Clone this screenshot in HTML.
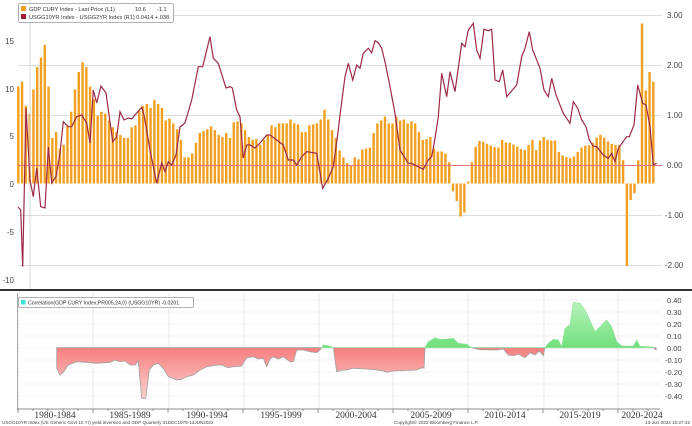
<!DOCTYPE html>
<html><head><meta charset="utf-8"><style>
html,body{margin:0;padding:0;background:#fff;}
svg{display:block;font-family:"Liberation Sans",sans-serif;}
</style></head><body>
<svg id="c" width="692" height="426" viewBox="0 0 692 426" xmlns="http://www.w3.org/2000/svg">
<defs>
<linearGradient id="rg" x1="0" y1="0" x2="0" y2="1"><stop offset="0" stop-color="#f77f7f"/><stop offset="1" stop-color="#fbd0d0"/></linearGradient>
<linearGradient id="gg" x1="0" y1="1" x2="0" y2="0"><stop offset="0" stop-color="#6fe07a"/><stop offset="1" stop-color="#b8f3bd"/></linearGradient>
</defs>
<g id="grid"></g>
<g id="bars"></g>
<line x1="18" y1="165.5" x2="662" y2="165.5" stroke="#e0707a" stroke-width="1"/>
<line x1="30" y1="0" x2="30" y2="290" stroke="#d8d8d8" stroke-width="1"/>
<polyline id="ln" fill="none" stroke="#9c2a45" stroke-width="1.2"/>
<g font-size="8" fill="#444">
<text x="14" y="44" text-anchor="end">15</text>
<text x="14" y="92" text-anchor="end">10</text>
<text x="14" y="139" text-anchor="end">5</text>
<text x="14" y="187" text-anchor="end">0</text>
<text x="14" y="235" text-anchor="end">-5</text>
<text x="14" y="283" text-anchor="end">-10</text>
<text x="667" y="18">3.00</text>
<text x="667" y="68">2.00</text>
<text x="667" y="118">1.00</text>
<text x="667" y="168">0.00</text>
<text x="665" y="218">-1.00</text>
<text x="665" y="268">-2.00</text>
</g>
<rect x="18.5" y="3.5" width="155" height="19" rx="2" fill="#fff" stroke="#999" stroke-width="0.8"/>
<rect x="21" y="6" width="5" height="5" fill="#f3a021"/>
<rect x="21" y="14" width="5" height="5" fill="#a01c38"/>
<g font-size="5.6" fill="#333">
<text x="29" y="11">GDP CURY Index - Last Price (L1)</text>
<text x="135" y="11">10.6</text><text x="157" y="11">-1.1</text>
<text x="29" y="19">USGG10YR Index - USGG2YR Index (R1) 0.0414 +.038</text>
</g>
<line x1="0" y1="290" x2="692" y2="290" stroke="#333" stroke-width="2"/>
<g id="bgrid"></g>
<path id="red" fill="url(#rg)" stroke="#a0a0a0" stroke-width="0.8"/>
<path id="grn" fill="url(#gg)" stroke="#8ee398" stroke-width="0.6"/>
<rect x="18.5" y="297.5" width="175" height="10" rx="1.5" fill="#fff" stroke="#999" stroke-width="0.8"/>
<rect x="21" y="300" width="4.5" height="4.5" fill="#3ee0d8"/>
<text x="28" y="304.5" font-size="5.2" fill="#333">Correlation(GDP CURY Index,PR005,24,0) (USGG10YR) -0.0201</text>
<g font-size="7.5" fill="#444">
<text x="667" y="303">0.40</text><text x="667" y="315">0.30</text><text x="667" y="327">0.20</text>
<text x="667" y="339">0.10</text><text x="667" y="351">0.00</text><text x="665" y="363">-0.10</text>
<text x="665" y="375">-0.20</text><text x="665" y="387">-0.30</text><text x="665" y="399">-0.40</text>
</g>
<line x1="17" y1="409" x2="660" y2="409" stroke="#666" stroke-width="0.8"/>
<g id="ticks"></g>
<g font-size="9.5" fill="#333" font-family="Liberation Serif, serif" text-anchor="middle">
<text x="55" y="418">1980-1984</text><text x="130" y="418">1985-1989</text><text x="207" y="418">1990-1994</text>
<text x="281" y="418">1995-1999</text><text x="356" y="418">2000-2004</text><text x="431" y="418">2005-2009</text>
<text x="505" y="418">2010-2014</text><text x="580" y="418">2015-2019</text><text x="642" y="418">2020-2024</text>
</g>
<g font-size="4.6" fill="#444">
<text x="2" y="424">USGG10YR Index (US Generic Govt 10 Yr) yield inversion and GDP  Quarterly 31DEC1979-13JUN2022</text>
<text x="394" y="424">Copyright© 2022 Bloomberg Finance L.P.</text>
<text x="690" y="424" text-anchor="end">13-Jun-2022 10:27:42</text>
</g>
</svg>
<script>
var NS="http://www.w3.org/2000/svg";
function el(p,t,a){var e=document.createElementNS(NS,t);for(var k in a)e.setAttribute(k,a[k]);p.appendChild(e);return e;}
var g=document.getElementById("grid");
[15,65,115,215,265].forEach(function(y){el(g,"line",{x1:18,y1:y+.5,x2:662,y2:y+.5,stroke:"#dcdcdc","stroke-width":1});});
var a=[10.0,10.5,8.0,7.2,9.7,12.0,13.0,14.3,10.0,4.7,5.3,3.6,4.0,6.0,7.4,9.7,11.5,12.5,12.0,10.0,8.7,7.0,7.4,7.2,6.5,5.8,5.3,5.0,4.7,4.7,5.8,6.0,7.5,8.0,8.2,7.8,8.6,8.2,7.8,6.5,6.7,6.2,5.6,4.5,2.7,2.7,3.1,4.2,5.2,5.4,5.6,5.9,
5.5,5.0,4.8,5.2,4.7,6.3,6.4,6.2,5.5,4.8,4.5,4.6,4.0,4.5,5.0,6.0,5.8,6.2,6.2,6.2,6.6,6.2,6.1,5.3,5.3,6.0,6.1,6.2,6.6,7.6,6.6,5.5,
4.7,3.4,2.7,2.1,1.8,2.7,2.5,3.5,3.6,3.7,5.2,6.2,6.5,6.9,6.2,6.2,6.9,6.5,6.6,6.2,6.4,6.2,5.3,4.5,4.6,4.8,3.6,3.3,3.3,3.1,2.2,-0.8,-1.8,-3.4,-3.0,0.2];
var m=[2.2,4.0,4.5,4.2,4.0,3.8,3.6,4.5,4.2,4.2,3.9,3.7,3.3,3.9,4.5,3.3,4.8,4.8,4.2,4.8,3.3,2.9,2.7,2.6,2.9,3.6,3.9,3.9,4.2,4.8,5.1,4.5,4.2,3.9,4.2,2.4];
for(var i=0;i<41;i++){var t=i*(m.length-1)/40,j=Math.floor(t),f=t-j;a.push(j+1<m.length?m[j]*(1-f)+m[j+1]*f:m[j]);}
a=a.concat([-8.5,-1.7,-1.0,2.4,16.5,9.6,11.5,10.5]);
var b=document.getElementById("bars");
a.forEach(function(v,i){var x=18.3+i*3.78-1.2,y0=183.5,h=v*9.7;
el(b,"rect",{x:x.toFixed(2),y:(h>=0?y0-h:y0).toFixed(2),width:2.4,height:Math.abs(h).toFixed(2),fill:"#f3a021"});});
var L=[[18,207],[20.7,210],[22.7,266.7],[26,108],[30,180],[33.3,196.7],[36.7,168],[40.7,206.7],[45,208],[48.3,147],[51.7,183],[56,176.7],[60,153],[63.3,121.7],[68.3,126.7],[71.7,126.7],[76.7,116.7],[81.7,115],[86.7,123],[90,143],[93.3,90],[96.7,103],[101,86],[106,93],[112.7,141.7],[116.7,136.7],[120,111.7],[124,120],[128.3,118],[131.7,119],[135,115],[141.7,107.3],[144,115],[150,150],[156.7,183.3],[161.7,163],[165,171.7],[168.3,161.7],[171.7,165],[176,155],[180,127],[185,123],[191.7,100],[198.3,66.7],[202.7,66.7],[210,36.7],[213.3,58.3],[218.3,63.3],[226,88],[230,86.7],[232.3,88],[236.7,110],[240,116.7],[243.3,158],[246.7,145],[250,145],[255,148],[260,143],[266.7,135],[270,135],[276.7,140],[283.3,145],[288.3,160],[293.3,160],[296.7,165],[301.7,156.7],[306.7,151.7],[316.7,153.3],[322.7,188.3],[328.3,178.3],[333.3,166.7],[338.3,130],[340,115],[345,76.7],[348.3,63.3],[352.7,80],[356.7,65],[360,68.3],[363.3,53.3],[368.3,48.3],[371.7,52.7],[375,40.7],[378.3,42.7],[381.7,48.3],[385,61.7],[390,86.7],[395,113.3],[400,150],[408.3,163.3],[411.7,163.3],[416.7,166],[423.3,169.3],[428.3,160],[431.7,156.7],[435,138.3],[438.3,116.7],[441.7,73.3],[446.7,96.7],[450,71.7],[455,91.7],[461.7,43.3],[465,46.7],[468.3,30],[473.3,23.3],[476.7,50],[480,58.3],[484,29.3],[488.3,30.7],[491.7,29.3],[495,80],[499.3,81.7],[502.7,70],[506.7,96.7],[516.7,85],[521.7,56.7],[525,48.3],[529.3,31.7],[532.7,50],[540,68.3],[544,90],[548.3,96.7],[551.7,78.3],[556,95],[563.3,113.3],[570,123.3],[573.3,101.7],[577.7,108.3],[581.7,120],[586,126.7],[589.3,140],[593,146],[596.7,146.7],[603.3,155],[608.3,158.3],[611.7,153.3],[615,161.7],[618.3,148.3],[626.7,136.7],[629.3,136.7],[634,125],[637.7,85],[642.7,103.3],[646,105],[650,126.7],[653.3,165],[656.7,163.3]];
document.getElementById("ln").setAttribute("points",L.map(function(p){return p[0]+","+p[1];}).join(" "));
var bg=document.getElementById("bgrid");
for(var k=0;k<9;k++){var y=300+k*12;el(bg,"line",{x1:18,y1:y,x2:660,y2:y,stroke:"#d0d0d0","stroke-width":0.6,"stroke-dasharray":"1,1"});}
[18,93,169,244,319,393,468,544,618].forEach(function(x){el(bg,"line",{x1:x,y1:293,x2:x,y2:409,stroke:"#e2e2e2","stroke-width":0.8});});
el(bg,"line",{x1:17.5,y1:293,x2:17.5,y2:409,stroke:"#999","stroke-width":0.8});
var Z=347.7;
var R=[[56.7,Z],[56.7,368.3],[60,375],[63.3,372.3],[68.3,365],[76.7,361.7],[86.7,362.3],[96.7,363.3],[110,362.3],[115,360],[120,361.7],[125,361],[130,365],[135,365],[138.3,361],[141.7,398.3],[145.7,398.3],[149.3,370],[153.3,365],[158.3,363.3],[163.3,368.3],[168.3,376.7],[176.7,380],[181.7,379.3],[186.7,376.7],[193.3,375],[200,370],[206.7,366.7],[216.7,365],[221.7,365],[228.3,367.7],[233.3,366.7],[241.7,366],[246.7,357.7],[253.3,356.7],[258.3,359],[263.3,358.3],[266.7,366.7],[270,359],[273.3,356.7],[278.3,359],[283.3,356.7],[290,361.7],[293.3,361.7],[296.7,350],[303.3,350],[310,351.7],[316.7,352.7],[320,350],[321.5,Z],
[333.3,Z],[336.7,371.7],[343.3,370],[346.7,370],[353.3,368.3],[366.7,369],[376.7,370],[383.3,371],[386.7,372.3],[393.3,371],[406.7,370.3],[416.7,370],[421.7,367.7],[424,368.3],[425,Z],
[471.7,Z],[480,349.7],[496.7,350],[503.3,349],[508.3,355],[513.3,355.7],[518.3,354.3],[525,357.7],[530,352.7],[535,355],[539.3,351],[543.3,355.7],[545,Z],
[653.3,Z],[656,350],[656,Z]];
var G=[[321.5,Z],[323.3,345],[328.3,345.7],[333.3,Z],[425,Z],[428.3,341.7],[435,337.7],[440,339.3],[446.7,339],[453.3,338.3],[458.3,343.3],[466.7,344.3],[471.7,Z],[545,Z],[548.3,343.3],[553.3,339.3],[558.3,340],[561.7,346.7],[565,328.3],[570,325],[573.3,302.3],[580,303.3],[585,310],[588.3,316.7],[595,331.7],[600,326.7],[606.7,320],[611.7,326.7],[616.7,341.7],[621.7,346],[633.3,346],[636.7,340],[640,346.3],[653.3,347],[653.3,Z]];
function pth(P){return "M"+P.map(function(p){return p[0]+","+p[1];}).join(" L")+" Z";}
document.getElementById("red").setAttribute("d",pth(R));
document.getElementById("grn").setAttribute("d",pth(G));
var tk=document.getElementById("ticks");
for(var yr=0;yr<=45;yr++){var x=18+yr*15;if(x>660)break;var maj=yr%5==0;
el(tk,"line",{x1:x,y1:409,x2:x,y2:maj?413:411,stroke:"#666","stroke-width":0.7});}
</script>
</body></html>
